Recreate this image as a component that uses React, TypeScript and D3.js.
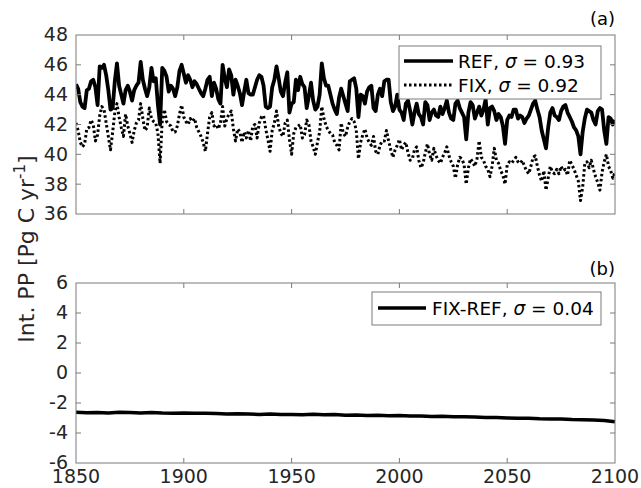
import React from 'react'
import * as d3 from 'd3'

const width = 641
const height = 488
const plotLeft = 76
const plotRight = 615
const topPanel = { top: 35, bottom: 214 }
const botPanel = { top: 283, bottom: 463 }

const font = 'DejaVu Sans, sans-serif'
const axisColor = '#7a7a7a'
const textColor = '#262626'

// annual values, 1850..2100
const startYear = 1850
const xTicks = [1850, 1900, 1950, 2000, 2050, 2100]
const topTicks = [36, 38, 40, 42, 44, 46, 48]
const botTicks = [-6, -4, -2, 0, 2, 4, 6]

const refSeries = [
  44.7, 44.4, 43.5, 43.2, 43.1, 44.3, 44.4, 44.9, 45.0, 44.5,
  43.3, 45.9, 45.8, 46.0, 45.3, 44.3, 43.0, 43.1, 44.9, 46.1,
  44.6, 44.0, 43.4, 44.3, 44.6, 44.2, 43.6, 44.3, 44.6, 44.8,
  46.2, 45.0, 44.4, 43.9, 44.5, 45.8, 44.9, 45.1, 43.3, 42.0,
  45.8, 45.6, 45.2, 44.2, 44.6, 44.4, 43.9, 44.5, 45.6, 46.0,
  45.4, 44.8, 45.3, 45.0, 44.5, 44.9, 44.7, 44.4, 44.1, 43.9,
  44.4, 45.0, 45.2, 43.9, 44.8, 44.4, 43.7, 43.4, 46.0, 45.1,
  44.5, 45.7, 45.3, 44.0, 45.0, 44.6, 44.1, 43.3, 44.2, 45.0,
  44.1, 44.0, 44.0, 44.5, 45.0, 45.3, 45.2, 44.6, 43.2, 43.1,
  43.2, 44.5, 45.0, 45.9, 45.1, 44.2, 43.9, 44.8, 45.5, 42.8,
  43.4, 43.5, 45.0, 44.3, 45.2, 44.7, 44.5, 43.1, 43.9, 44.8,
  43.6, 43.0, 43.2, 44.0, 46.1, 45.1, 44.6, 44.6, 44.0, 43.4,
  43.0, 42.7, 43.8, 44.4, 43.9, 43.4, 42.9, 44.9, 45.0, 45.1,
  44.4, 42.5, 44.0, 43.9, 43.4, 44.2, 44.5, 44.6, 43.1, 42.9,
  44.0, 44.4, 43.9, 44.9, 45.0, 45.0, 43.5, 42.9, 43.2, 44.0,
  43.0, 42.8, 42.3, 43.4, 43.6, 42.9, 42.0, 42.8, 43.4, 42.7,
  42.5, 42.0, 43.5, 43.3, 42.3, 42.8, 43.0, 42.6, 42.5, 43.2,
  42.7, 43.1, 43.6, 42.8, 42.4, 42.3, 43.4, 43.6, 43.1, 42.8,
  42.5, 41.0, 42.8, 43.5, 43.3, 42.4, 42.8, 43.2, 42.6, 43.0,
  43.7, 42.0, 43.1, 43.2, 42.9, 42.3, 42.7, 42.5, 41.9, 40.7,
  42.3, 42.6, 42.5, 43.0, 43.0, 42.4, 42.6, 42.5, 42.1, 42.4,
  42.6, 43.0, 43.4, 43.6, 43.0, 42.5, 41.6, 41.0, 40.4, 41.8,
  42.8, 43.1, 42.6, 42.5, 42.3, 42.9, 43.2, 43.3, 42.8, 42.5,
  42.2, 41.8, 41.6, 41.2, 40.0, 41.5, 42.4, 43.0, 42.9, 42.8,
  42.3, 42.0, 42.9, 43.1, 43.0, 41.6, 40.7, 42.5, 42.4, 42.0,
  42.3
]

const fixSeries = [
  42.1, 41.6, 40.8, 40.5, 40.7, 41.7, 41.8, 42.3, 42.0, 40.9,
  41.3, 42.6, 43.2, 43.0, 42.1, 41.2, 40.3, 41.5, 42.8, 43.4,
  42.5, 41.8, 41.2, 42.7, 41.9, 41.4, 40.8, 41.6, 42.1, 42.3,
  43.4, 42.4, 41.6, 41.8, 43.1, 42.4, 42.2, 42.1, 41.4, 39.4,
  42.3, 43.0, 42.2, 42.0, 41.9, 41.5, 41.5, 41.9, 42.7, 43.3,
  42.5, 42.2, 42.0, 42.4, 42.2, 42.4, 41.8, 41.5, 41.2, 40.8,
  40.2, 41.4, 42.5, 42.8, 41.9, 42.0, 41.7, 42.1, 43.2, 41.9,
  42.4, 42.7, 42.9, 41.7, 40.9, 41.7, 41.5, 40.8, 41.5, 41.1,
  41.6, 40.9, 41.9, 42.0, 41.1, 42.1, 42.5, 42.6, 41.7, 41.0,
  40.2, 41.6, 42.1, 42.9, 41.9, 41.4, 41.2, 42.1, 42.3, 41.0,
  40.0, 41.4, 41.8, 41.9, 42.0, 41.1, 41.3, 42.3, 42.0, 40.9,
  40.5, 40.0, 40.8, 41.5, 43.2, 42.4, 41.9, 41.6, 41.4, 41.3,
  40.8, 40.6, 40.3, 42.1, 41.4, 41.2, 41.8, 42.2, 42.4, 42.2,
  41.6, 39.7, 40.8, 41.3, 41.7, 41.1, 40.8, 40.6, 41.2, 40.2,
  40.0, 40.6, 40.9, 40.9, 41.6, 40.9, 40.3, 39.8, 40.3, 40.6,
  41.0, 40.3, 40.6, 40.8, 40.1, 39.6, 39.7, 40.3, 40.5, 39.6,
  39.1, 39.4, 40.1, 40.7, 40.0, 39.6, 40.4, 39.9, 39.6, 39.4,
  39.8, 40.1, 40.5, 39.9, 39.5, 39.2, 38.4, 39.3, 39.8, 39.7,
  39.3, 38.0, 39.1, 39.7, 39.5, 39.2, 39.7, 40.9, 39.8, 39.6,
  39.2, 39.0, 38.5, 39.2, 40.4, 39.6, 39.4, 38.9, 38.6, 38.0,
  39.3, 39.5, 39.4, 39.6, 39.8, 39.5, 39.4, 39.6, 39.2, 38.9,
  38.7, 39.2, 39.8, 39.9, 39.2, 38.6, 38.2, 38.9, 37.6, 38.4,
  39.2, 38.8, 38.7, 39.0, 38.7, 39.2, 38.9, 39.0, 38.6, 39.6,
  39.3, 39.0, 38.6, 38.2, 36.9, 37.8, 39.4, 39.5, 39.1, 39.6,
  39.0, 38.5, 38.1, 37.6, 38.8, 39.5, 40.0, 39.2, 38.9, 38.4,
  38.8
]

// FIX-REF, every 5 years 1850..2100
const diffStep = 5
const diffSeries = [
  -2.62, -2.65, -2.63, -2.66, -2.61, -2.64, -2.66, -2.63, -2.67, -2.68,
  -2.66, -2.69, -2.68, -2.70, -2.73, -2.72, -2.74, -2.76, -2.73, -2.77,
  -2.76, -2.78, -2.75, -2.78, -2.77, -2.81, -2.80, -2.83, -2.82, -2.85,
  -2.84, -2.87, -2.86, -2.90, -2.88, -2.92, -2.91, -2.94, -2.97, -2.96,
  -3.00, -3.02, -3.01, -3.05, -3.07, -3.06, -3.10, -3.12, -3.14, -3.16,
  -3.25
]

type Pt = [number, number]

function Frame({ yScale, ticks, top, bottom, showXLabels }: any) {
  const xScale = d3.scaleLinear().domain([1850, 2100]).range([plotLeft, plotRight])
  const tl = 5
  return (
    <g>
      <rect x={plotLeft} y={top} width={plotRight - plotLeft} height={bottom - top}
        fill='none' stroke={axisColor} strokeWidth={1} />
      {xTicks.slice(1, -1).map(t => (
        <g key={'x' + t}>
          <line x1={xScale(t)} x2={xScale(t)} y1={bottom} y2={bottom - tl} stroke={axisColor} />
          <line x1={xScale(t)} x2={xScale(t)} y1={top} y2={top + tl} stroke={axisColor} />
        </g>
      ))}
      {ticks.slice(1, -1).map((t: number) => (
        <g key={'y' + t}>
          <line x1={plotLeft} x2={plotLeft + tl} y1={yScale(t)} y2={yScale(t)} stroke={axisColor} />
          <line x1={plotRight} x2={plotRight - tl} y1={yScale(t)} y2={yScale(t)} stroke={axisColor} />
        </g>
      ))}
      {ticks.map((t: number) => (
        <text key={'yl' + t} x={plotLeft - 8} y={yScale(t)} dy='0.34em' textAnchor='end'
          fontFamily={font} fontSize={19} fill={textColor}>{t}</text>
      ))}
      {showXLabels && xTicks.map(t => (
        <text key={'xl' + t} x={xScale(t)} y={bottom + 20} textAnchor='middle'
          fontFamily={font} fontSize={19} fill={textColor}>{t}</text>
      ))}
    </g>
  )
}

export default function App() {
  const xScale = d3.scaleLinear().domain([1850, 2100]).range([plotLeft, plotRight])
  const yTop = d3.scaleLinear().domain([36, 48]).range([topPanel.bottom, topPanel.top])
  const yBot = d3.scaleLinear().domain([-6, 6]).range([botPanel.bottom, botPanel.top])

  const refPts: Pt[] = refSeries.map((v, i) => [startYear + i, v])
  const fixPts: Pt[] = fixSeries.map((v, i) => [startYear + i, v])
  const diffPts: Pt[] = diffSeries.map((v, i) => [startYear + i * diffStep, v])

  const lineTop = d3.line<Pt>().x(d => xScale(d[0])).y(d => yTop(d[1]))
  const lineBot = d3.line<Pt>().x(d => xScale(d[0])).y(d => yBot(d[1]))

  return (
    <svg width={width} height={height} style={{ position: 'absolute', left: 0, top: 0, background: '#fff' }}>
      <rect x={0} y={0} width={width} height={height} fill='#fff' />

      <defs>
        <clipPath id='clipTop'>
          <rect x={plotLeft} y={topPanel.top} width={plotRight - plotLeft} height={topPanel.bottom - topPanel.top} />
        </clipPath>
      </defs>

      {/* panel (a) */}
      <g clipPath='url(#clipTop)'>
        <path d={lineTop(fixPts) || ''} fill='none' stroke='#000' strokeWidth={3}
          strokeDasharray='2.5,2.5' strokeLinejoin='round' />
        <path d={lineTop(refPts) || ''} fill='none' stroke='#000' strokeWidth={3.8}
          strokeLinejoin='round' />
      </g>
      <Frame yScale={yTop} ticks={topTicks} top={topPanel.top} bottom={topPanel.bottom} showXLabels={false} />

      <g>
        <rect x={399} y={46} width={202} height={53} fill='#fff' stroke={axisColor} />
        <line x1={404} x2={453} y1={61} y2={61} stroke='#000' strokeWidth={3.5} />
        <text x={458} y={68} fontFamily={font} fontSize={18.5} fill='#000'>
          REF, <tspan fontStyle='italic'>σ</tspan> = 0.93
        </text>
        <line x1={404} x2={453} y1={85} y2={85} stroke='#000' strokeWidth={3} strokeDasharray='2.5,2.5' />
        <text x={458} y={92} fontFamily={font} fontSize={18.5} fill='#000'>
          FIX, <tspan fontStyle='italic'>σ</tspan> = 0.92
        </text>
      </g>
      <text x={615} y={25} textAnchor='end' fontFamily={font} fontSize={18} fill='#000'>(a)</text>

      {/* panel (b) */}
      <path d={lineBot(diffPts) || ''} fill='none' stroke='#000' strokeWidth={3.5} strokeLinejoin='round' />
      <Frame yScale={yBot} ticks={botTicks} top={botPanel.top} bottom={botPanel.bottom} showXLabels={true} />

      <g>
        <rect x={372} y={292} width={229} height={33} fill='#fff' stroke={axisColor} />
        <line x1={378} x2={426} y1={308} y2={308} stroke='#000' strokeWidth={3.5} />
        <text x={432} y={315} fontFamily={font} fontSize={18.5} fill='#000'>
          FIX-REF, <tspan fontStyle='italic'>σ</tspan> = 0.04
        </text>
      </g>
      <text x={615} y={275} textAnchor='end' fontFamily={font} fontSize={18} fill='#000'>(b)</text>

      {/* shared y label */}
      <text transform={'translate(' + 34 + ',' + 249 + ') rotate(-90)'} textAnchor='middle'
        fontFamily={font} fontSize={22} fill={textColor}>
        Int. PP [Pg C yr<tspan dy={-9} fontSize={15}>-1</tspan><tspan dy={9}>]</tspan>
      </text>
    </svg>
  )
}
